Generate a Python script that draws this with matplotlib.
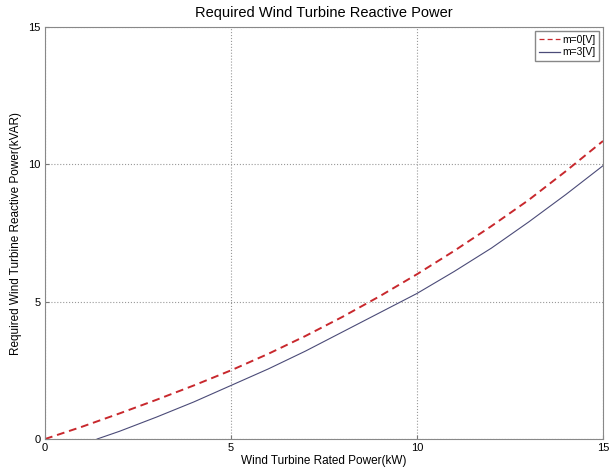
import matplotlib
matplotlib.use('Agg')
import matplotlib.pyplot as plt

plt.rcParams['font.family'] = ['Liberation Sans', 'DejaVu Sans']

# red dashed curve, m=0[V]
x_m0 = [0, 1, 2, 3, 4, 5, 6, 7, 8, 9, 10, 11, 12, 13, 14, 15]
q_m0 = [0, 0.45, 0.93, 1.43, 1.95, 2.5, 3.1, 3.75, 4.45, 5.2, 6.0, 6.85, 7.75, 8.7, 9.75, 10.85]

# solid curve, m=3[V]
x_m3 = [1.4, 2, 3, 4, 5, 6, 7, 8, 9, 10, 11, 12, 13, 14, 15]
q_m3 = [0, 0.28, 0.8, 1.35, 1.95, 2.55, 3.2, 3.9, 4.6, 5.3, 6.1, 6.95, 7.9, 8.9, 9.95]

ticks = [0, 5, 10, 15]

fig = plt.figure(figsize=(6.15, 4.71), dpi=100)
ax = fig.add_axes([0.0732, 0.0679, 0.9073, 0.8748])

ax.plot(x_m0, q_m0, '--', color='#c8282d', lw=1.4, dashes=(4, 2.5), label='m=0[V]')
ax.plot(x_m3, q_m3, '-', color='#4b4b78', lw=0.8, label='m=3[V]')

ax.set_xlim(0, 15)
ax.set_ylim(0, 15)
ax.set_xticks(ticks)
ax.set_yticks(ticks)
ax.grid(True, linestyle=':', color='#999999', lw=0.8)
ax.tick_params(direction='in', length=3, labelsize=8, color='#777777', pad=3)
for s in ax.spines.values():
    s.set_color('#888888')

ax.set_title('Required Wind Turbine Reactive Power', fontsize=10.5, pad=7)
ax.set_xlabel('Wind Turbine Rated Power(kW)', fontsize=8.5, labelpad=1)
ax.set_ylabel('Required Wind Turbine Reactive Power(kVAR)', fontsize=8.5, labelpad=5)

leg = ax.legend(loc='upper right', fontsize=7.5, fancybox=False, framealpha=1,
                edgecolor='#888888', handlelength=2.0, handletextpad=0.2,
                borderpad=0.35, labelspacing=0.25, borderaxespad=0.4)
for h in leg.get_lines():
    h.set_linewidth(0.9)

fig.savefig('out.png', dpi=100)
